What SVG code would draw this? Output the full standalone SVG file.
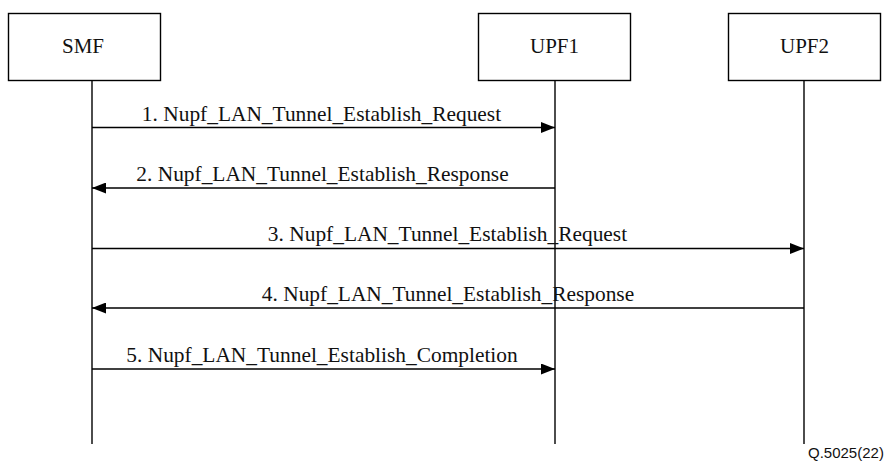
<svg xmlns="http://www.w3.org/2000/svg" width="889" height="461" viewBox="0 0 889 461">
<style>
.box{fill:#fff;stroke:#000;stroke-width:1.4}
.life{stroke:#000;stroke-width:1.4;fill:none}
.msg{stroke:#000;stroke-width:1.4;fill:none}
.t{font-family:"Liberation Serif","Times New Roman",serif;font-size:21.4px;fill:#111;text-anchor:middle}
.n{font-family:"Liberation Serif","Times New Roman",serif;font-size:21px;fill:#111;text-anchor:middle}
.q{font-family:"Liberation Sans",Arial,sans-serif;font-size:15px;fill:#111;text-anchor:start}
</style>
<defs>
<marker id="ah" markerWidth="14" markerHeight="11" refX="14" refY="5.5" orient="auto" markerUnits="userSpaceOnUse">
<path d="M0,0 L14,5.5 L0,11 Z" fill="#000"/>
</marker>
</defs>
<g id="SMF">
<rect class="box" x="8.5" y="13.5" width="152" height="67"/>
<text class="n" x="83" y="53">SMF</text>
<line class="life" x1="92" y1="81" x2="92" y2="444"/>
</g>
<g id="UPF1">
<rect class="box" x="478.5" y="13.5" width="152" height="67"/>
<text class="n" x="554.5" y="53">UPF1</text>
<line class="life" x1="555" y1="81" x2="555" y2="444"/>
</g>
<g id="UPF2">
<rect class="box" x="728.5" y="13.5" width="152" height="67"/>
<text class="n" x="804.5" y="53">UPF2</text>
<line class="life" x1="804" y1="81" x2="804" y2="444"/>
</g>
<g id="connectors">
<line class="msg" x1="92" y1="127.5" x2="555" y2="127.5" marker-end="url(#ah)"/>
<text class="t" x="321.5" y="121">1. Nupf_LAN_Tunnel_Establish_Request</text>
<line class="msg" x1="555" y1="188" x2="92" y2="188" marker-end="url(#ah)"/>
<text class="t" x="322.5" y="181">2. Nupf_LAN_Tunnel_Establish_Response</text>
<line class="msg" x1="92" y1="248.5" x2="804" y2="248.5" marker-end="url(#ah)"/>
<text class="t" x="447.5" y="241">3. Nupf_LAN_Tunnel_Establish_Request</text>
<line class="msg" x1="804" y1="308" x2="92" y2="308" marker-end="url(#ah)"/>
<text class="t" x="448" y="301">4. Nupf_LAN_Tunnel_Establish_Response</text>
<line class="msg" x1="92" y1="369" x2="555" y2="369" marker-end="url(#ah)"/>
<text class="t" x="322" y="362">5. Nupf_LAN_Tunnel_Establish_Completion</text>
</g>
<text class="q" x="808" y="458">Q.5025(22)</text>
</svg>
